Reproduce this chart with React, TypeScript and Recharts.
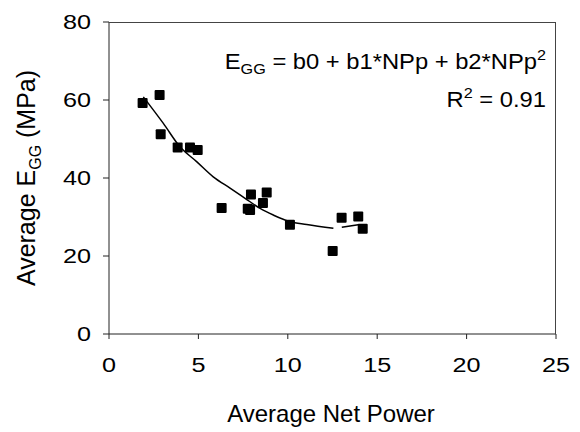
import { ComposedChart, Scatter, Line, XAxis, YAxis } from 'recharts';

// measured points (Average Net Power vs Average E_GG)
const netPower = [1.88, 2.83, 2.89, 3.84, 4.53, 4.96, 6.3, 7.76, 7.89, 7.94, 8.61, 8.82, 10.12, 12.51, 13.01, 13.94, 14.19];
const eggMpa = [59.2, 61.3, 51.2, 47.8, 47.8, 47.2, 32.3, 32.1, 31.8, 35.8, 33.6, 36.3, 28.0, 21.3, 29.8, 30.1, 27.0];

// fitted curve (null = the small gap in the line)
const fitX = [1.92, 3.04, 3.97, 4.9, 5.83, 6.77, 7.61, 8.45, 9.19, 10.12, 11.06, 12.55, 12.8, 13.02, 13.94];
const fitY: (number | null)[] = [60.8, 54.0, 48.0, 44.2, 40.3, 37.4, 34.8, 32.2, 30.5, 28.8, 28.1, 27.1, null, 27.4, 28.0];

const xTicks = [0, 5, 10, 15, 20, 25];
const yTicks = [0, 20, 40, 60, 80];

const FONT = '"Liberation Sans", Arial, Helvetica, sans-serif';

const points = netPower.map((x, i) => ({ x, y: eggMpa[i] }));
const fit = fitX.map((x, i) => ({ x, y: fitY[i] }));

const SquareDot = ({ cx, cy }: any) => <rect x={cx - 5} y={cy - 5} width={10} height={10} rx={1} fill="#000" />;

const XTick = ({ x, y, payload }: any) => (
  <text transform={`translate(${x},${y}) scale(1.2,1)`} textAnchor="middle" dy="0.71em" fontSize={21} fontFamily={FONT} fill="#000">
    {payload.value}
  </text>
);

const YTick = ({ x, y, payload }: any) => (
  <text transform={`translate(${x},${y}) scale(1.2,1)`} textAnchor="end" dy="0.355em" fontSize={21} fontFamily={FONT} fill="#000">
    {payload.value}
  </text>
);

const Annotations = () => (
  <g fontFamily={FONT} fill="#000">
    <text transform="translate(35,178) rotate(-90)" textAnchor="middle" fontSize={25}>
      <tspan>Average E</tspan>
      <tspan fontSize={16} dy={6}>GG</tspan>
      <tspan dy={-6}> (MPa)</tspan>
    </text>
    <text transform="translate(546,69) scale(1.08,1)" textAnchor="end" fontSize={22}>
      <tspan>E</tspan>
      <tspan fontSize={15} dy={5}>GG</tspan>
      <tspan dy={-5}> = b0 + b1*NPp + b2*NPp</tspan>
      <tspan fontSize={15} dy={-9}>2</tspan>
    </text>
    <text transform="translate(546,107) scale(1.08,1)" textAnchor="end" fontSize={22}>
      <tspan>R</tspan>
      <tspan fontSize={15} dy={-9}>2</tspan>
      <tspan dy={9}> = 0.91</tspan>
    </text>
    <text x={331} y={422} textAnchor="middle" fontSize={24}>Average Net Power</text>
  </g>
);

export default function App() {
  return (
    <div style={{ position: 'absolute', left: 0, top: 0, width: 580, height: 432, background: '#fff' }}>
      <ComposedChart width={580} height={432} margin={{ top: 22, right: 24, bottom: 38, left: 39 }}>
        <XAxis
          type="number"
          dataKey="x"
          domain={[0, 25]}
          ticks={xTicks}
          height={60}
          tickSize={5}
          tickMargin={18}
          stroke="#222"
          tick={<XTick />}
          label={{ content: () => <Annotations /> }}
        />
        <YAxis
          type="number"
          domain={[0, 80]}
          ticks={yTicks}
          width={70}
          tickSize={6}
          tickMargin={12}
          stroke="#222"
          tick={<YTick />}
        />
        <Line
          data={fit}
          dataKey="y"
          type="monotone"
          stroke="#000"
          strokeWidth={1.5}
          dot={false}
          connectNulls={false}
          isAnimationActive={false}
        />
        <Scatter data={points} dataKey="y" shape={<SquareDot />} isAnimationActive={false} />
      </ComposedChart>
      {/* top and right edges of the plot frame */}
      <div
        style={{
          position: 'absolute',
          left: 109,
          top: 22,
          width: 447,
          height: 312,
          boxSizing: 'border-box',
          borderTop: '1px solid #444',
          borderRight: '1px solid #444',
          pointerEvents: 'none',
        }}
      />
    </div>
  );
}
